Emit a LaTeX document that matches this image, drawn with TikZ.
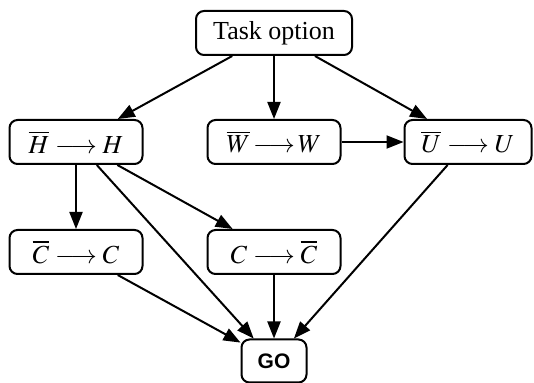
\documentclass[tikz,border=0pt]{standalone}
\usepackage{mathptmx}
\usepackage{fontspec}
\setmainfont{Liberation Serif}
\newfontfamily\gofont{Liberation Sans}
\usetikzlibrary{arrows.meta}
\tikzset{
  every picture/.style={line width=1pt},
  box/.style={draw, rounded corners=4pt, inner sep=0pt, minimum width=#1, minimum height=22pt, font=\fontsize{13}{15}\selectfont},
  box/.default=66.5pt,
  arrow/.style={-{Triangle[length=8.5pt, width=6.5pt]}},
}

\begin{document}
\begin{tikzpicture}[x=0.5pt, y=-0.5pt]
  \useasboundingbox (0,0) rectangle (534,383);
  % nodes
  \node[box=78pt] (task) at (274,33) {Task option};
  \node[box] (hh) at (76,142) {$\overline{H}\longrightarrow H$};
  \node[box] (ww) at (274,142) {$\overline{W}\!\longrightarrow\! W$};
  \node[box=63.5pt] (uu) at (468,142) {$\overline{U}\longrightarrow U$};
  \node[box] (cc) at (76,252) {$\overline{C}\longrightarrow C$};
  \node[box] (cb) at (274,252) {$C\longrightarrow \overline{C}$};
  \node[box=32.5pt, minimum height=21.5pt, font=\gofont\bfseries\fontsize{10.5}{12}\selectfont] (go) at (274,361) {GO};
  % edges
  \draw[arrow] (task) -- (hh);
  \draw[arrow] (task) -- (ww);
  \draw[arrow] (task) -- (uu);
  \draw[arrow] (ww) -- (uu);
  \draw[arrow] (hh) -- (cc);
  \draw[arrow] (hh) -- (cb);
  \draw[arrow] (hh) -- (go);
  \draw[arrow] (cc) -- (go);
  \draw[arrow] (cb) -- (go);
  \draw[arrow] (uu) -- (go);
\end{tikzpicture}
\end{document}
